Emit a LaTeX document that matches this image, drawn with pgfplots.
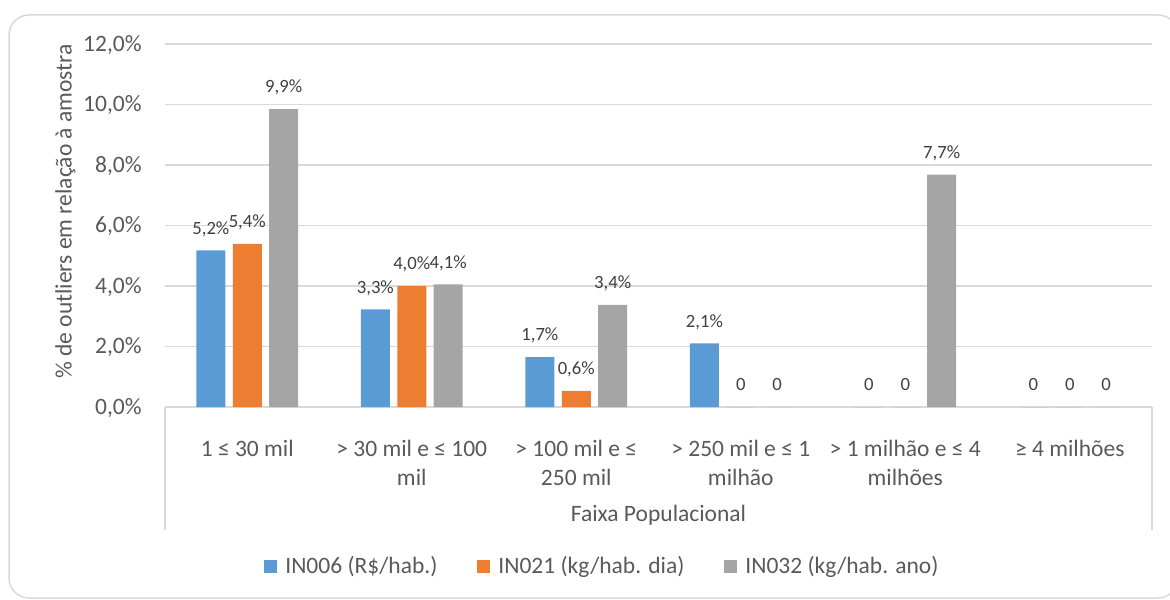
\documentclass[border=0pt]{standalone}
\usepackage{pgfplots}
\pgfplotsset{compat=1.18}
\usepackage{fontspec}
\setmainfont{Carlito}
\definecolor{cblue}{HTML}{5B9BD5}
\definecolor{corange}{HTML}{ED7D31}
\definecolor{cgray}{HTML}{A5A5A5}
\definecolor{gridc}{HTML}{D9D9D9}
\definecolor{txt}{HTML}{595959}
\definecolor{lbl}{HTML}{404040}
\newcommand{\bigf}{\fontsize{11.75pt}{14.25pt}\selectfont}
\newcommand{\smallf}{\fontsize{9.35pt}{11pt}\selectfont}
\begin{document}
\begin{tikzpicture}
\begin{scope}[x=0.5pt,y=-0.5pt]
\useasboundingbox (0,0) rectangle (1170,599);
\draw[gridc, line width=0.75pt, rounded corners=10pt] (9,15) rectangle (1178,598);
\end{scope}
\begin{axis}[
  at={(82.5pt,-203.5pt)}, anchor=south west,
  scale only axis, width=493.5pt, height=181.5pt,
  xmin=-0.5, xmax=5.5, ymin=0, ymax=12,
  axis x line*=bottom, axis y line*=left,
  y axis line style={draw=none},
  x axis line style={gridc, line width=0.75pt},
  xtick style={draw=none}, ytick style={draw=none},
  ytick={0,2,4,6,8,10,12},
  yticklabels={{0,0\%},{2,0\%},{4,0\%},{6,0\%},{8,0\%},{10,0\%},{12,0\%}},
  ymajorgrids, grid style={gridc, line width=0.6pt},
  xtick={0,1,2,3,4,5},
  xticklabels={{1 ≤ 30 mil\\\mbox{}},{> 30 mil e ≤ 100\\mil},{> 100 mil e ≤\\250 mil},{> 250 mil e ≤ 1\\milhão},{> 1 milhão e ≤ 4\\milhões},{≥ 4 milhões\\\mbox{}}},
  xticklabel style={font=\bigf, text=txt, align=center, anchor=base, inner sep=0pt, yshift=-34.75pt},
  yticklabel style={font=\bigf, text=txt, anchor=base east, inner sep=0pt, xshift=-11.5pt, yshift=-3.7pt},
  ybar, bar width=14.5pt,
  nodes near coords, point meta=explicit symbolic,
  every node near coord/.append style={font=\smallf, text=lbl, anchor=base, inner sep=0pt, yshift=8.1pt},
  legend columns=3,
  legend image code/.code={\fill[#1] (0pt,-3.25pt) rectangle (6.5pt,3.25pt);},
  legend style={at={(0.1003,-0.44)}, anchor=west, draw=none, fill=none, inner sep=0pt,
    font=\bigf, text=txt, nodes={inner sep=0pt},
    /tikz/every odd column/.append style={column sep=4pt},
    /tikz/every even column/.append style={column sep=20pt}},
]
\addplot[fill=cblue, draw=none, bar shift=-18.2pt] coordinates {
  (0,5.18) [5,2\%] (1,3.23) [3,3\%] (2,1.65) [1,7\%] (3,2.1) [2,1\%] (4,0) [0] (5,0) [0]};
\addplot[fill=corange, draw=none, bar shift=0pt] coordinates {
  (0,5.39) [5,4\%] (1,4.0) [4,0\%] (2,0.53) [0,6\%] (3,0) [0] (4,0) [0] (5,0) [0]};
\addplot[fill=cgray, draw=none, bar shift=18.2pt] coordinates {
  (0,9.85) [9,9\%] (1,4.05) [4,1\%] (2,3.38) [3,4\%] (3,0) [0] (4,7.68) [7,7\%] (5,0) [0]};
\legend{IN006 (R\$/hab.), IN021 (kg/hab. dia), IN032 (kg/hab. ano)}
\end{axis}
\begin{scope}[x=0.5pt,y=-0.5pt]
\draw[gridc, line width=0.75pt] (165,407) -- (165,530) (1152,407) -- (1152,530);
\node[font=\bigf, text=txt, anchor=base] at (658.5,521.7) {Faixa Populacional};
\node[font=\bigf, text=txt, rotate=90, anchor=base] at (71.5,211.5) {\% de outliers em relação à amostra};
\end{scope}
\end{tikzpicture}
\end{document}
